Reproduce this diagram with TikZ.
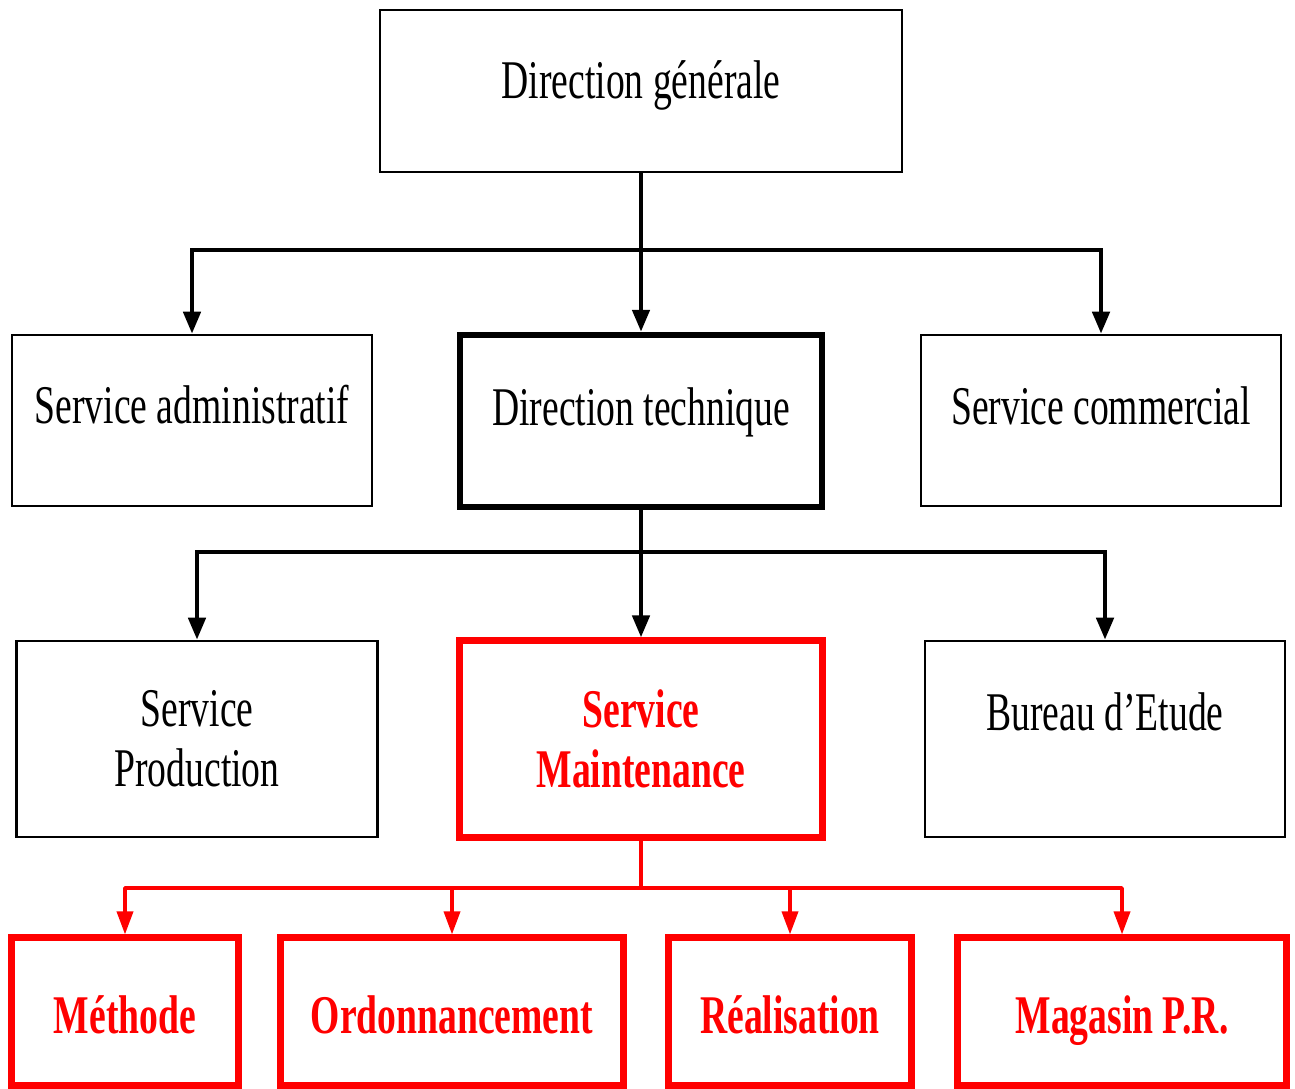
\documentclass[tikz,border=0pt]{standalone}
\usepackage{fontspec}
\setmainfont{Liberation Serif}[FakeStretch=0.69]
\usetikzlibrary{arrows.meta}
\definecolor{orgred}{RGB}{255,0,0}
\tikzset{
  box/.style={draw, line width=0.7pt, inner sep=0pt, align=center,
    font=\fontsize{15.5}{17}\selectfont},
  boss/.style={box, line width=1.8pt},
  redbox/.style={box, draw=orgred, text=orgred, line width=2pt,
    font=\fontsize{15.5}{17}\selectfont\bfseries},
  raisetxt/.style={text height=0.36cm, text depth=#1},
  cell/.style={redbox, minimum height=1.47cm, text height=0.43cm, text depth=0cm},
  wire/.style={line width=1.3pt},
  link/.style={wire, -{Triangle[width=0.17cm, length=0.22cm]}},
  redwire/.style={draw=orgred, line width=1pt, line join=round},
  redlink/.style={redwire, -{Triangle[width=0.16cm, length=0.23cm]}}
}

\begin{document}
\begin{tikzpicture}[x=0.01cm, y=-0.01cm]
  \useasboundingbox (0,0) rectangle (1295,1088);

  % top
  \node[box, minimum width=5.22cm, minimum height=1.62cm, raisetxt=0.22cm] (dg) at (641,91) {Direction générale};

  % second row
  \node[box, minimum width=3.6cm, minimum height=1.71cm, raisetxt=0.30cm] (sa) at (192,420.5) {Service administratif};
  \node[boss, minimum width=3.62cm, minimum height=1.72cm, raisetxt=0.27cm] (dt) at (641,421) {Direction technique};
  \node[box, minimum width=3.6cm, minimum height=1.71cm, raisetxt=0.28cm] (sc) at (1101,420.5) {Service commercial};

  \coordinate (bar1) at (641,250);
  \draw[wire] (dg) -- (bar1);
  \draw[link] (bar1) -| (sa.north);
  \draw[link] (bar1) -- (dt.north);
  \draw[link] (bar1) -| (sc.north);

  % third row
  \node[box, minimum width=3.61cm, minimum height=1.96cm] (sp) at (197,739) {Service\\Production};
  \node[redbox, minimum width=3.62cm, minimum height=1.96cm] (sm) at (641,739) {Service\\Maintenance};
  \node[box, minimum width=3.6cm, minimum height=1.96cm, raisetxt=0.54cm] (be) at (1105,739) {Bureau d’Etude};

  \coordinate (bar2) at (641,552);
  \draw[wire] (dt) -- (bar2);
  \draw[link] (bar2) -| (sp.north);
  \draw[link] (bar2) -- (sm.north);
  \draw[link] (bar2) -| (be.north);

  % maintenance cells
  \node[cell, minimum width=2.26cm] (met) at (125,1011.5) {Méthode};
  \node[cell, minimum width=3.43cm] (ord) at (452,1011.5) {Ordonnancement};
  \node[cell, minimum width=2.43cm] (rea) at (790,1011.5) {Réalisation};
  \node[cell, minimum width=3.28cm] (mag) at (1122,1011.5) {Magasin P.R.};

  \coordinate (bar3) at (641,888);
  \draw[redwire] (sm) -- (bar3);
  \draw[redlink] (bar3) -| (met.north);
  \draw[redlink] (bar3) -| (ord.north);
  \draw[redlink] (bar3) -| (rea.north);
  \draw[redlink] (bar3) -| (mag.north);
\end{tikzpicture}
\end{document}
